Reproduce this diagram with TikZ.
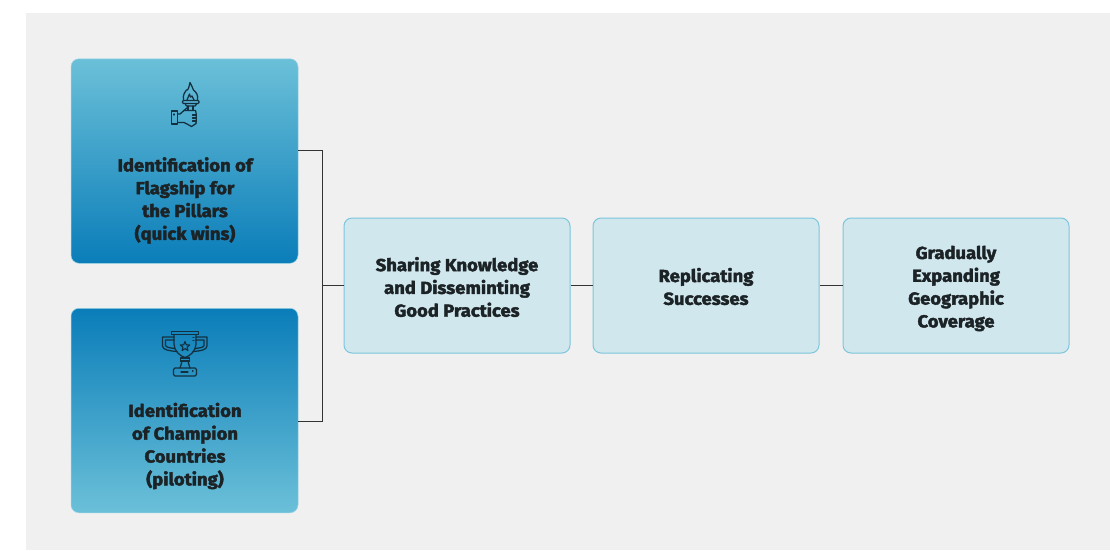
\documentclass[tikz,border=0pt]{standalone}
\usepackage{fontspec}
\setmainfont{Fira Sans}[BoldFeatures={FakeBold=2.4,FakeStretch=1.06}]
\usetikzlibrary{calc,shapes.geometric}
\definecolor{pagegray}{HTML}{F0F0F0}
\definecolor{gradlight}{HTML}{6BC0D8}
\definecolor{graddark}{HTML}{0A7DB9}
\definecolor{palebox}{HTML}{D0E7EE}
\definecolor{paleedge}{HTML}{7CC6DC}
\definecolor{inkdark}{HTML}{1C2326}
\definecolor{iconink}{HTML}{12303F}
\definecolor{linkgray}{HTML}{333333}
\tikzset{
  grad/.style={minimum width=227pt,minimum height=204.5pt,rounded corners=8pt,draw=gradlight!70!white,line width=.5pt,inner sep=0pt},
  gradtop/.style={grad,top color=gradlight,bottom color=graddark},
  gradbot/.style={grad,top color=graddark,bottom color=gradlight},
  stepbox/.style={minimum width=226pt,minimum height=135pt,rounded corners=8pt,fill=palebox,draw=paleedge,line width=1pt,inner sep=0pt},
  lbl/.style={text=inkdark,font=\bfseries\fontsize{17.4}{22.8}\selectfont,align=center,inner sep=0pt},
  link/.style={draw=linkgray,line width=1pt},
  icon/.style={draw=iconink,line width=1.25pt,line join=round,line cap=round},
}
\begin{document}
\begin{tikzpicture}[x=1pt,y=-1pt]
\useasboundingbox (0,0) rectangle (1110,550);
\fill[white] (0,0) rectangle (1110,550);
\fill[pagegray] (26,13) rectangle (1110,550);
% boxes
\node[gradtop] (flag) at (184.5,161) {};
\node[gradbot] (champ) at (184.5,410.5) {};
\node[stepbox] (share) at (457,285.5) {};
\node[stepbox] (repl) at (706,285.5) {};
\node[stepbox] (geo) at (956,285.5) {};
% labels
\node[lbl] (flagtxt) at (185,200.5) {Identification of\\Flagship for\\the Pillars\\(quick wins)};
\node[lbl] (champtxt) at (185,446) {Identification\\of Champion\\Countries\\(piloting)};
\node[lbl] (sharetxt) at (457,287) {Sharing Knowledge\\and Disseminting\\Good Practices};
\node[lbl] (repltxt) at (706,286.5) {Replicating\\Successes};
\node[lbl] (geotxt) at (956,288.5) {Gradually\\Expanding\\Geographic\\Coverage};
% connectors
\coordinate (junction) at (322,285.5);
\draw[link] ($(flag.east)+(0,-10.5)$) -| (junction);
\draw[link] ($(champ.east)+(0,10.5)$) -| (junction);
\draw[link] (junction) -- (share.west);
\draw[link] (share.east) -- (repl.west);
\draw[link] (repl.east) -- (geo.west);
% torch and hand icon
\begin{scope}[icon]
  \draw (183.5,100) .. controls (182.5,95) and (185,92) .. (186.5,90) .. controls (188,91) and (189,87) .. (190,82.5)
        .. controls (192,85) and (192,88) .. (193.5,90) .. controls (196,92) and (198.5,95) .. (197.5,100);
  \draw (187,100) -- (189.5,94) -- (190.5,97) -- (192,96) -- (194,100);
  \draw[rounded corners=1pt] (182.5,100.5) rectangle (199,103.5);
  \draw (185,103.5) -- (186.5,106) -- (195,106) -- (197,103.5);
  \draw (188,106) -- (188,110.5) (193,106) -- (193,110.5);
  \draw (171.5,111) rectangle (177.5,124);
  \draw (174,114) -- (174,115);
  \draw (177.5,114) -- (180,114) -- (187.5,107.5);
  \draw (183.5,110.5) -- (195.5,110.5) .. controls (196.5,112) and (196.5,121) .. (196,123.5);
  \draw (177.5,122.5) -- (184,122.5) .. controls (187,122.5) and (188,126) .. (191.5,126.5) -- (196,123.5);
  \draw (192.5,115) -- (196,115) (192.5,118) -- (196,118) (192.5,121) -- (196,121);
  % trophy icon
  \draw (171.5,331.5) rectangle (198.5,334.5);
  \draw (174,334.5) -- (174,344) .. controls (174,351) and (180,356) .. (185,357.5)
        .. controls (190,356) and (196,351) .. (196,344) -- (196,334.5);
  \draw (174,337) -- (162.5,337) -- (162.5,346) .. controls (162.5,350) and (170,351) .. (177,351.5);
  \draw (174,340) -- (165.5,340) -- (165.5,345.5) .. controls (166,347.5) and (171,348) .. (175,348.5);
  \draw (196,337) -- (207,337) -- (207,346) .. controls (207,350) and (200,351) .. (193,351.5);
  \draw (196,340) -- (204,340) -- (204,345.5) .. controls (204,347.5) and (199,348) .. (195,348.5);
  \node[star,star points=5,star point ratio=2.3,draw=iconink,line width=1.1pt,minimum size=10pt,inner sep=0pt] (trophystar) at (185,346.5) {};
  \draw (193,337.5) -- (194,337.5) (193,340.5) -- (194,340.5);
  \draw (180.5,358) -- (189.5,358) (180.5,361) -- (189.5,361);
  \draw (180.5,358) -- (180.5,361) (189.5,358) -- (189.5,361);
  \draw (182,361) -- (181,365) -- (180,368) (188,361) -- (189,365) -- (190,368);
  \draw[rounded corners=1.5pt] (173.5,376) -- (173.5,368) -- (196.5,368) -- (196.5,376) -- cycle;
  \draw (181,372) -- (188,372) (192.5,371) -- (193,371);
\end{scope}
\end{tikzpicture}
\end{document}
